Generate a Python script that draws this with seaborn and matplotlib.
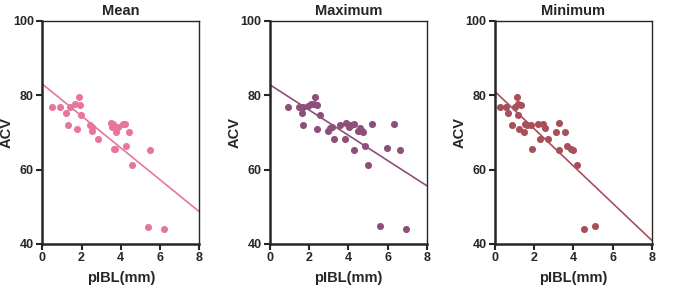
import matplotlib
matplotlib.use('Agg')
import matplotlib.pyplot as plt
import seaborn as sns
import pandas as pd

# values
mean_x = [0.51, 0.92, 1.19, 1.41, 1.29, 1.65, 1.88, 1.94, 1.97, 1.75, 2.43, 2.51,
          2.53, 2.85, 3.50, 3.53, 3.62, 3.66, 3.70, 3.77, 3.87, 4.13, 4.24, 4.29,
          4.40, 4.55, 5.48, 5.40, 6.21]
mean_y = [76.9, 76.9, 75.1, 76.9, 71.9, 77.6, 79.6, 77.3, 74.6, 70.9, 71.9, 70.4,
          71.4, 68.3, 72.6, 71.5, 72.2, 65.6, 65.4, 70.2, 71.5, 72.2, 72.2, 66.2,
          70.2, 61.2, 65.2, 44.6, 44.0]

max_x = [0.92, 1.49, 1.69, 1.64, 1.69, 1.92, 2.08, 2.25, 2.29, 2.39, 2.58, 2.42,
         2.97, 3.08, 3.15, 3.27, 3.56, 3.85, 3.90, 4.03, 4.15, 4.29, 4.27, 4.49,
         4.61, 4.68, 4.73, 4.83, 5.00, 5.22, 5.95, 6.32, 6.64, 5.61, 6.93]
max_y = [76.9, 76.9, 76.7, 75.1, 71.9, 77.1, 77.6, 77.6, 79.6, 77.3, 74.6, 70.9,
         70.4, 71.2, 71.5, 68.3, 71.9, 68.3, 72.6, 71.5, 71.9, 72.2, 65.2, 70.4,
         71.2, 70.4, 70.1, 66.2, 61.2, 72.2, 65.7, 72.2, 65.2, 44.7, 44.0]

min_x = [0.25, 0.54, 0.64, 0.85, 1.02, 1.10, 1.19, 1.32, 1.15, 1.24, 1.47, 1.53,
         1.61, 1.83, 1.90, 2.17, 2.32, 2.46, 2.54, 2.68, 3.12, 3.25, 3.27, 3.56,
         3.69, 3.90, 3.98, 4.19, 4.54, 5.08]
min_y = [76.9, 76.9, 75.1, 71.9, 76.9, 79.6, 77.6, 77.3, 74.6, 71.0, 70.2, 72.2,
         71.9, 71.9, 65.6, 72.2, 68.3, 72.2, 71.2, 68.3, 70.2, 72.6, 65.3, 70.2,
         66.2, 65.5, 65.2, 61.2, 44.0, 44.7]

titles = ['Mean', 'Maximum', 'Minimum']
colors = ['#E8769A', '#8E4F7A', '#A8505A']
x_ticks = [0, 2, 4, 6, 8]
y_ticks = [40, 60, 80, 100]

sns.set_style('ticks')
plt.rcParams['font.family'] = ['Liberation Sans', 'DejaVu Sans']
plt.rcParams['font.weight'] = 'bold'

fig = plt.figure(figsize=(6.85, 2.89), dpi=100)
lefts = [0.0618, 0.394, 0.7226]
datasets = [(mean_x, mean_y), (max_x, max_y), (min_x, min_y)]

for left, (xs, ys), title, color in zip(lefts, datasets, titles, colors):
    ax = fig.add_axes([left, 0.156, 0.229, 0.772])
    df = pd.DataFrame({'pIBL': xs, 'ACV': ys})
    ax.set_xlim(0, 8)
    ax.set_ylim(40, 100)
    sns.regplot(data=df, x='pIBL', y='ACV', ax=ax, ci=None, truncate=False,
                color=color, scatter_kws={'s': 26, 'linewidths': 0, 'alpha': 1},
                line_kws={'lw': 1.2})
    ax.set_xlim(0, 8)
    ax.set_ylim(40, 100)
    ax.set_xticks(x_ticks)
    ax.set_yticks(y_ticks)
    ax.tick_params(labelsize=9, width=1.5, length=4, pad=2)
    for lab in ax.get_xticklabels() + ax.get_yticklabels():
        lab.set_fontweight('bold')
    for side in ['left', 'bottom']:
        ax.spines[side].set_linewidth(1.8)
    for side in ['top', 'right']:
        ax.spines[side].set_linewidth(1.0)
    ax.set_title(title, fontsize=10.5, fontweight='bold', pad=4)
    ax.set_xlabel('pIBL(mm)', fontsize=10.5, fontweight='bold', labelpad=5)
    ax.set_ylabel('ACV', fontsize=10.5, fontweight='bold')
    ax.yaxis.set_label_coords(-0.18, 0.5)

fig.savefig('out.png', dpi=100, facecolor='white')
